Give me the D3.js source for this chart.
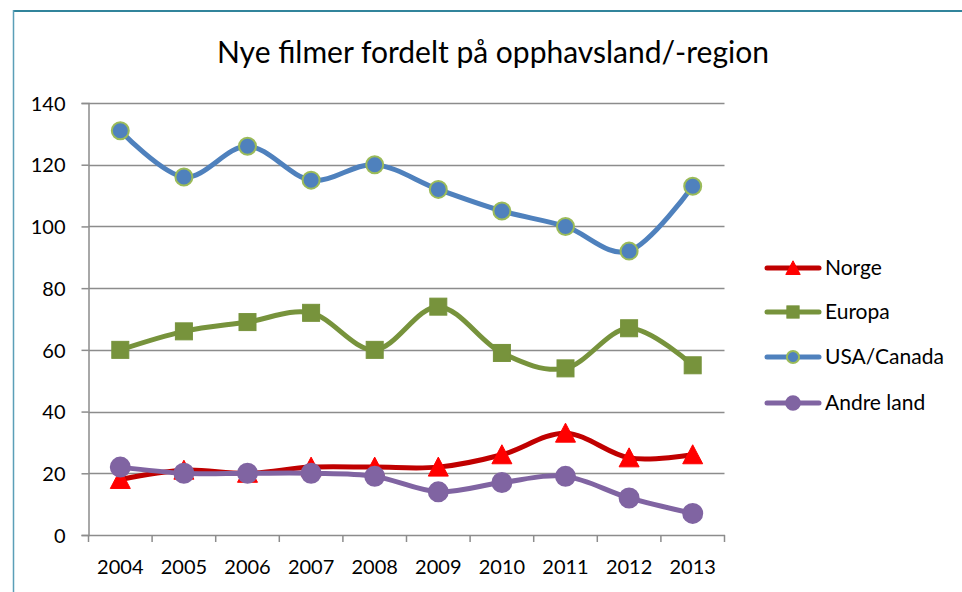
<!DOCTYPE html>
<html>
<head>
<meta charset="utf-8">
<script src="https://cdn.jsdelivr.net/npm/d3@7"></script>
<style>
  html, body { margin: 0; padding: 0; background: #fff; }
  svg { display: block; font-family: Lato, "Open Sans", sans-serif; }
</style>
</head>
<body>
<svg id="chart" width="962" height="592"></svg>
<script>
const title = "Nye filmer fordelt på opphavsland/-region";
const years = ["2004","2005","2006","2007","2008","2009","2010","2011","2012","2013"];
const norge = [18, 21, 20, 22, 22, 22, 26, 33, 25, 26];
const europa = [60, 66, 69, 72, 60, 74, 59, 54, 67, 55];
const usaCanada = [131, 116, 126, 115, 120, 112, 105, 100, 92, 113];
const andreLand = [22, 20, 20, 20, 19, 14, 17, 19, 12, 7];
const yTicks = [0, 20, 40, 60, 80, 100, 120, 140];
const seriesNames = ["Norge", "Europa", "USA/Canada", "Andre land"];

const svg = d3.select("#chart");
const plot = { left: 88.5, right: 724.5, top: 103, bottom: 535 };

// outer border
svg.append("line").attr("x1", 13.5).attr("x2", 962).attr("y1", 11).attr("y2", 11)
  .attr("stroke", "#31849b").attr("stroke-width", 2);
svg.append("line").attr("x1", 13.5).attr("x2", 13.5).attr("y1", 10).attr("y2", 592)
  .attr("stroke", "#5a9fb8").attr("stroke-width", 1.5);

// title
svg.append("text").attr("x", 493).attr("y", 63).attr("text-anchor", "middle")
  .attr("font-size", 30).attr("fill", "#000").text(title);

const x = d3.scaleBand().domain(years).range([plot.left, plot.right]).padding(0);
const y = d3.scaleLinear().domain([0, 140]).range([plot.bottom, plot.top]);
const cx = d => x(d) + x.bandwidth() / 2;

// gridlines
svg.append("g").selectAll("line").data(yTicks.filter(t => t > 0)).join("line")
  .attr("x1", plot.left).attr("x2", plot.right)
  .attr("y1", d => Math.round(y(d)) + 0.5).attr("y2", d => Math.round(y(d)) + 0.5)
  .attr("stroke", "#8c8c8c").attr("stroke-width", 1.5);

// y axis
const yAxis = d3.axisLeft(y).tickValues(yTicks).tickSize(7).tickPadding(8);
const gy = svg.append("g").attr("transform", `translate(${plot.left},0)`).call(yAxis);
gy.select(".domain").attr("stroke", "#8c8c8c").attr("stroke-width", 1.5);
gy.selectAll(".tick line").attr("stroke", "#8c8c8c").attr("stroke-width", 1.5);
gy.selectAll(".tick text").attr("font-size", 20).attr("fill", "#000")
  .attr("font-family", "Lato, sans-serif").attr("x", -23).attr("dy", "0.36em");

// x axis
const xAxis = d3.axisBottom(x).tickSize(0).tickPadding(0);
const gx = svg.append("g").attr("transform", `translate(0,${plot.bottom})`).call(xAxis);
gx.select(".domain").attr("stroke", "#8c8c8c").attr("stroke-width", 1.5);
gx.selectAll(".tick text").attr("font-size", 20).attr("fill", "#000")
  .attr("font-family", "Lato, sans-serif").attr("y", 39).attr("dy", 0);
// category boundary ticks
svg.append("g").selectAll("line").data(years.concat(["end"])).join("line")
  .attr("x1", (d, i) => plot.left + i * x.bandwidth()).attr("x2", (d, i) => plot.left + i * x.bandwidth())
  .attr("y1", plot.bottom).attr("y2", plot.bottom + 7)
  .attr("stroke", "#8c8c8c").attr("stroke-width", 1.5);

const line = d3.line().x((d, i) => cx(years[i])).y(d => y(d)).curve(d3.curveCatmullRom.alpha(0));

const styles = [
  { data: norge, color: "#c00000", marker: "triangle", fill: "#ff0000", stroke: "#ff0000" },
  { data: europa, color: "#77933c", marker: "square", fill: "#77933c", stroke: "#77933c" },
  { data: usaCanada, color: "#4f81bd", marker: "circle", fill: "#4f81bd", stroke: "#9bbb59" },
  { data: andreLand, color: "#8064a2", marker: "circle", fill: "#8064a2", stroke: "#8064a2" }
];

function drawMarker(g, type, px, py, s, k) {
  if (type === "triangle") {
    g.append("path").attr("d", `M${px},${py - 10 * k}L${px + 10 * k},${py + 9 * k}L${px - 10 * k},${py + 9 * k}Z`)
      .attr("fill", s.fill).attr("stroke", s.stroke).attr("stroke-width", 1);
  } else if (type === "square") {
    g.append("rect").attr("x", px - 8.5 * k).attr("y", py - 8.5 * k).attr("width", 17 * k).attr("height", 17 * k)
      .attr("fill", s.fill).attr("stroke", s.stroke).attr("stroke-width", 1);
  } else {
    g.append("circle").attr("cx", px).attr("cy", py).attr("r", (s.stroke === s.fill ? 9.5 : 8.5) * k)
      .attr("fill", s.fill).attr("stroke", s.stroke).attr("stroke-width", 2);
  }
}

styles.forEach(s => {
  const g = svg.append("g");
  g.append("path").attr("d", line(s.data)).attr("fill", "none")
    .attr("stroke", s.color).attr("stroke-width", 5).attr("stroke-linejoin", "round").attr("stroke-linecap", "round");
  s.data.forEach((v, i) => drawMarker(g, s.marker, cx(years[i]), y(v), s, 1));
});

// legend
const legY = [268, 312, 357, 403];
seriesNames.forEach((name, k) => {
  const s = styles[k];
  const g = svg.append("g");
  g.append("line").attr("x1", 767).attr("x2", 819).attr("y1", legY[k]).attr("y2", legY[k])
    .attr("stroke", s.color).attr("stroke-width", 5).attr("stroke-linecap", "round");
  drawMarker(g, s.marker, 793, legY[k], s, 0.72);
  g.append("text").attr("x", 825).attr("y", legY[k] + 7).attr("font-size", 21).attr("fill", "#000").text(name);
});
</script>
</body>
</html>
